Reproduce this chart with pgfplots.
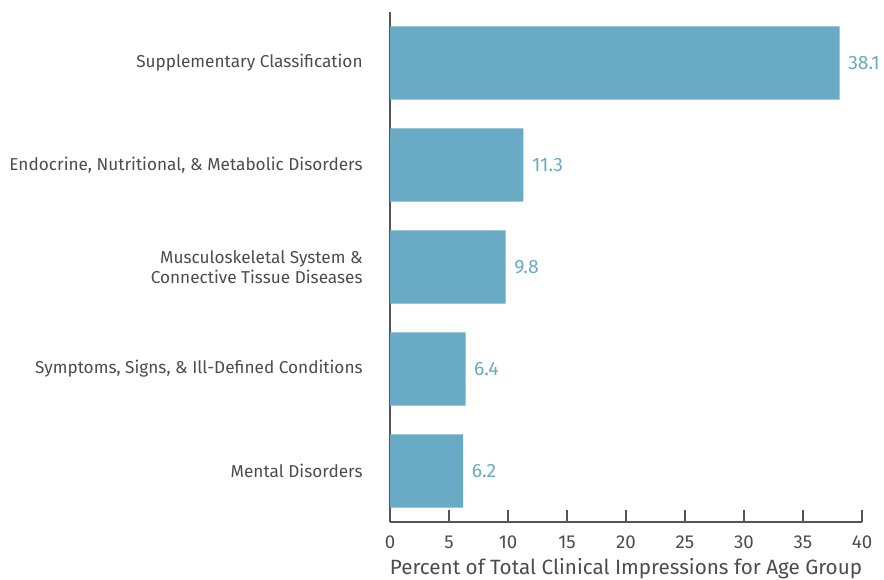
\documentclass[border=0pt]{standalone}
\usepackage{pgfplots}
\pgfplotsset{compat=1.18}
\usepackage{fontspec}
\setmainfont{Fira Sans}
\definecolor{barblue}{HTML}{69ABC4}
\definecolor{axgray}{HTML}{555555}
\begin{document}
\begin{tikzpicture}
\useasboundingbox (0,0) rectangle (663pt,435pt);
\begin{axis}[
  at={(292.5pt,43.5pt)}, anchor=south west,
  scale only axis,
  width=354pt, height=382.5pt,
  xbar, bar width=0.72,
  y=76.5pt,
  xmin=0, xmax=40, ymin=-0.5, ymax=4.5,
  ytick={0,1,2,3,4},
  yticklabels={Mental Disorders,{Symptoms, Signs, \& Ill-Defined Conditions},{Musculoskeletal System \&\\Connective Tissue Diseases},{Endocrine, Nutritional, \& Metabolic Disorders},Supplementary Classification},
  yticklabel style={align=right, font=\fontsize{12.9}{15}\selectfont, text=axgray!90!black, xshift=-17pt},
  xtick={0,5,...,40},
  xticklabel style={font=\fontsize{14}{16}\selectfont, text=axgray!90!black, yshift=-7pt},
  /pgf/number format/assume math mode=true,
  axis x line*=bottom, axis y line*=left,
  axis line style={axgray, line width=0.9pt},
  major tick length=9pt,
  x tick style={axgray, line width=0.9pt},
  xtick pos=bottom, tick align=inside,
  y tick style={draw=none},
  xlabel={Percent of Total Clinical Impressions for Age Group},
  xlabel style={at={(axis description cs:0.5,0)}, anchor=base, yshift=-39.5pt, font=\fontsize{15.5}{18}\selectfont, text=axgray!90!black},
  nodes near coords,
  nodes near coords style={font=\fontsize{14.5}{16}\selectfont, text=barblue, xshift=3pt},
  point meta=x,
  every node near coord/.append style={/pgf/number format/.cd, fixed, precision=1, fixed zerofill},
]
\addplot[fill=barblue, draw=none] coordinates {(6.2,0) (6.4,1) (9.8,2) (11.3,3) (38.1,4)};
\end{axis}
\end{tikzpicture}
\end{document}
